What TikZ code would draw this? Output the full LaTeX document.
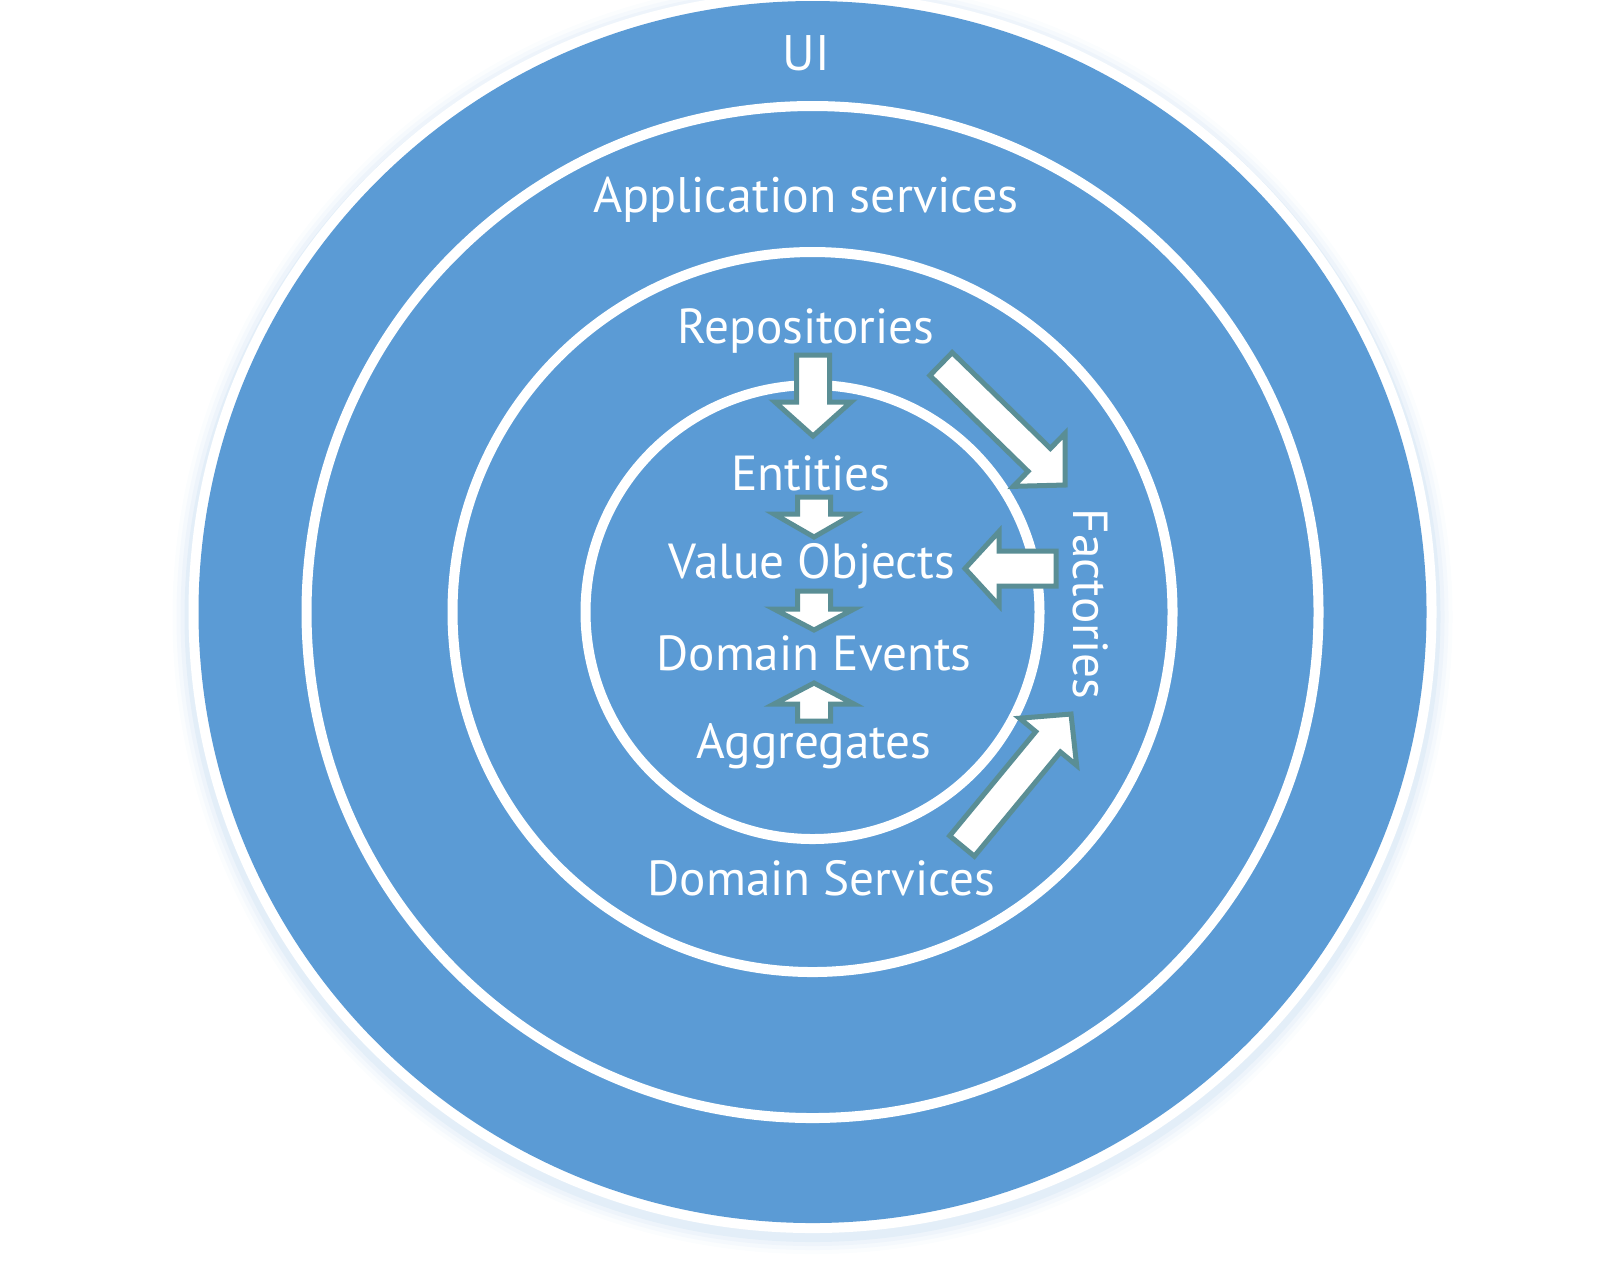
\documentclass[tikz,border=0pt]{standalone}
\usepackage{fontspec}
\setmainfont{PT Sans}
\usetikzlibrary{calc}
\definecolor{ddblue}{HTML}{5B9BD5}
\definecolor{ddteal}{HTML}{5A8E95}
\newcommand{\blockarrow}[5]{%
  \coordinate (hb) at ($(#2)!#5!(#1)$);
  \draw[barrow] ($(#1)!#3!90:(#2)$) -- ($(hb)!#3!90:(#2)$) -- ($(hb)!#4!90:(#2)$) -- (#2)
    -- ($(hb)!#4!-90:(#2)$) -- ($(hb)!#3!-90:(#2)$) -- ($(#1)!#3!-90:(#2)$) -- cycle;}
\begin{document}
\begin{tikzpicture}[x=0.01cm, y=-0.01cm, font=\fontsize{14}{16}\selectfont, line join=miter,
  ring/.style={draw=white, line width=0.1cm},
  barrow/.style={draw=ddteal, fill=white, line width=0.05cm},
  lbl/.style={text=white, anchor=base, inner sep=0pt},
  big/.style={font=\fontsize{14.2}{17}\selectfont}]
\useasboundingbox (0,0) rectangle (1607,1265);
\coordinate (o) at (812.5,612);
\foreach \r/\a in {16/0.025, 12/0.035, 8/0.05, 4/0.07}
  \fill[ddblue, opacity=\a] ($(o)+(0,5)$) ellipse [x radius=624+\r, y radius=621+\r];
\fill[white] (o) ellipse [x radius=624, y radius=621];
\fill[ddblue] (o) ellipse [x radius=614, y radius=611];
\foreach \r in {506,360,227}
  \draw[ring] (o) circle [radius=\r];
\node[lbl, big] (ui) at (806,70) {UI};
\node[lbl, big] (app) at (806,212) {Application services};
\node[lbl] (repo) at (806,343) {Repositories};
\node[lbl] (ent) at (811,490) {Entities};
\node[lbl] (vo) at (812,578) {Value Objects};
\node[lbl] (de) at (814,670) {Domain Events};
\node[lbl] (agg) at (814,758) {Aggregates};
\node[lbl] (ds) at (821.5,895) {Domain Services};
\node[lbl, rotate=-90] (fac) at (1073,604) {Factories};
\coordinate (repo-s) at (813,355); \coordinate (ent-n) at (813,436);
\blockarrow{repo-s}{ent-n}{.165cm}{.38cm}{.34cm}
\coordinate (ent-s) at (814,497); \coordinate (vo-n) at (814,537);
\blockarrow{ent-s}{vo-n}{.165cm}{.40cm}{.23cm}
\coordinate (vo-s) at (814,591); \coordinate (de-n) at (814,630);
\blockarrow{vo-s}{de-n}{.165cm}{.40cm}{.21cm}
\coordinate (agg-n) at (814,721); \coordinate (de-s) at (814,683);
\blockarrow{agg-n}{de-s}{.165cm}{.40cm}{.21cm}
\coordinate (fac-w) at (1056,568.5); \coordinate (vo-e) at (965,568.5);
\blockarrow{fac-w}{vo-e}{.175cm}{.37cm}{.34cm}
\coordinate (repo-e) at (941,364); \coordinate (fac-n) at (1065,485);
\blockarrow{repo-e}{fac-n}{.16cm}{.37cm}{.36cm}
\coordinate (ds-e) at (962,846); \coordinate (fac-s) at (1071,714);
\blockarrow{ds-e}{fac-s}{.16cm}{.37cm}{.36cm}
\end{tikzpicture}
\end{document}
